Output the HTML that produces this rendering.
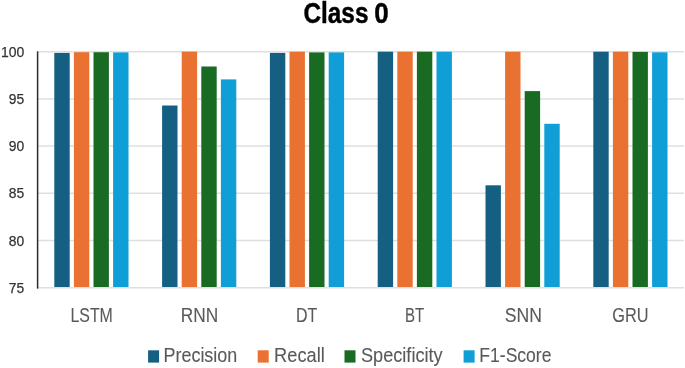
<!DOCTYPE html><html><head><meta charset="utf-8"><style>html,body{margin:0;padding:0;background:#fff;width:685px;height:368px;overflow:hidden}svg{display:block;filter:blur(0.4px)}text{font-family:"Liberation Sans",sans-serif}</style></head><body>
<svg width="685" height="368" viewBox="0 0 685 368">
<line x1="37" x2="684" y1="51.65" y2="51.65" stroke="#dfdfdf" stroke-width="1.5"/>
<line x1="37" x2="684" y1="98.88" y2="98.88" stroke="#dfdfdf" stroke-width="1.5"/>
<line x1="37" x2="684" y1="146.10" y2="146.10" stroke="#dfdfdf" stroke-width="1.5"/>
<line x1="37" x2="684" y1="193.33" y2="193.33" stroke="#dfdfdf" stroke-width="1.5"/>
<line x1="37" x2="684" y1="240.55" y2="240.55" stroke="#dfdfdf" stroke-width="1.5"/>
<line x1="37" x2="684" y1="287.77" y2="287.77" stroke="#dfdfdf" stroke-width="1.5"/>
<rect x="54.30" y="52.90" width="15.4" height="234.10" fill="#156082"/>
<rect x="73.90" y="52.20" width="15.4" height="234.80" fill="#E97132"/>
<rect x="93.50" y="52.20" width="15.4" height="234.80" fill="#196B24"/>
<rect x="113.10" y="52.40" width="15.4" height="234.60" fill="#0F9ED5"/>
<rect x="162.10" y="105.50" width="15.4" height="181.50" fill="#156082"/>
<rect x="181.70" y="51.60" width="15.4" height="235.40" fill="#E97132"/>
<rect x="201.30" y="66.50" width="15.4" height="220.50" fill="#196B24"/>
<rect x="220.90" y="79.40" width="15.4" height="207.60" fill="#0F9ED5"/>
<rect x="269.90" y="52.90" width="15.4" height="234.10" fill="#156082"/>
<rect x="289.50" y="51.70" width="15.4" height="235.30" fill="#E97132"/>
<rect x="309.10" y="52.40" width="15.4" height="234.60" fill="#196B24"/>
<rect x="328.70" y="52.40" width="15.4" height="234.60" fill="#0F9ED5"/>
<rect x="377.70" y="51.70" width="15.4" height="235.30" fill="#156082"/>
<rect x="397.30" y="51.70" width="15.4" height="235.30" fill="#E97132"/>
<rect x="416.90" y="51.70" width="15.4" height="235.30" fill="#196B24"/>
<rect x="436.50" y="51.70" width="15.4" height="235.30" fill="#0F9ED5"/>
<rect x="485.50" y="185.30" width="15.4" height="101.70" fill="#156082"/>
<rect x="505.10" y="51.70" width="15.4" height="235.30" fill="#E97132"/>
<rect x="524.70" y="91.10" width="15.4" height="195.90" fill="#196B24"/>
<rect x="544.30" y="123.80" width="15.4" height="163.20" fill="#0F9ED5"/>
<rect x="593.30" y="51.70" width="15.4" height="235.30" fill="#156082"/>
<rect x="612.90" y="51.70" width="15.4" height="235.30" fill="#E97132"/>
<rect x="632.50" y="51.90" width="15.4" height="235.10" fill="#196B24"/>
<rect x="652.10" y="52.30" width="15.4" height="234.70" fill="#0F9ED5"/>
<line x1="37.6" x2="37.6" y1="51.4" y2="288.6" stroke="#2b2b2b" stroke-width="1.5"/>
<rect x="148.1" y="350.3" width="11" height="12.3" fill="#156082"/>
<rect x="257.7" y="350.3" width="11" height="12.3" fill="#E97132"/>
<rect x="344.5" y="350.3" width="11" height="12.3" fill="#196B24"/>
<rect x="463.6" y="350.3" width="11" height="12.3" fill="#0F9ED5"/>
<text x="303.45" y="22.55" font-size="29.30" font-weight="bold" fill="#000000" stroke="#000000" stroke-width="0.45" textLength="65.00" lengthAdjust="spacingAndGlyphs">Class</text>
<text x="374.15" y="22.55" font-size="29.30" font-weight="bold" fill="#000000" stroke="#000000" stroke-width="0.45" textLength="14.45" lengthAdjust="spacingAndGlyphs">0</text>
<text x="1.10" y="56.70" font-size="15.10" fill="#333333" stroke="#333333" stroke-width="0.25" textLength="23.30" lengthAdjust="spacingAndGlyphs">100</text>
<text x="8.70" y="103.92" font-size="15.10" fill="#333333" stroke="#333333" stroke-width="0.25" textLength="15.40" lengthAdjust="spacingAndGlyphs">95</text>
<text x="8.70" y="151.15" font-size="15.10" fill="#333333" stroke="#333333" stroke-width="0.25" textLength="15.40" lengthAdjust="spacingAndGlyphs">90</text>
<text x="8.70" y="198.38" font-size="15.10" fill="#333333" stroke="#333333" stroke-width="0.25" textLength="15.40" lengthAdjust="spacingAndGlyphs">85</text>
<text x="8.70" y="245.60" font-size="15.10" fill="#333333" stroke="#333333" stroke-width="0.25" textLength="15.40" lengthAdjust="spacingAndGlyphs">80</text>
<text x="8.70" y="292.82" font-size="15.10" fill="#333333" stroke="#333333" stroke-width="0.25" textLength="15.40" lengthAdjust="spacingAndGlyphs">75</text>
<text x="70.45" y="321.75" font-size="20.50" fill="#595959" stroke="#595959" stroke-width="0.1" textLength="42.40" lengthAdjust="spacingAndGlyphs">LSTM</text>
<text x="180.85" y="321.75" font-size="20.50" fill="#595959" stroke="#595959" stroke-width="0.1" textLength="37.40" lengthAdjust="spacingAndGlyphs">RNN</text>
<text x="295.95" y="321.75" font-size="20.50" fill="#595959" stroke="#595959" stroke-width="0.1" textLength="21.30" lengthAdjust="spacingAndGlyphs">DT</text>
<text x="405.05" y="321.75" font-size="20.50" fill="#595959" stroke="#595959" stroke-width="0.1" textLength="19.20" lengthAdjust="spacingAndGlyphs">BT</text>
<text x="504.75" y="321.75" font-size="20.50" fill="#595959" stroke="#595959" stroke-width="0.1" textLength="37.15" lengthAdjust="spacingAndGlyphs">SNN</text>
<text x="612.35" y="321.75" font-size="20.50" fill="#595959" stroke="#595959" stroke-width="0.1" textLength="36.20" lengthAdjust="spacingAndGlyphs">GRU</text>
<text x="163.50" y="362.35" font-size="20.10" fill="#595959" stroke="#595959" stroke-width="0.1" textLength="73.80" lengthAdjust="spacingAndGlyphs">Precision</text>
<text x="274.10" y="362.35" font-size="20.10" fill="#595959" stroke="#595959" stroke-width="0.1" textLength="50.65" lengthAdjust="spacingAndGlyphs">Recall</text>
<text x="360.95" y="362.35" font-size="20.10" fill="#595959" stroke="#595959" stroke-width="0.1" textLength="81.75" lengthAdjust="spacingAndGlyphs">Specificity</text>
<text x="479.35" y="362.35" font-size="20.10" fill="#595959" stroke="#595959" stroke-width="0.1" textLength="72.10" lengthAdjust="spacingAndGlyphs">F1-Score</text>
</svg></body></html>
